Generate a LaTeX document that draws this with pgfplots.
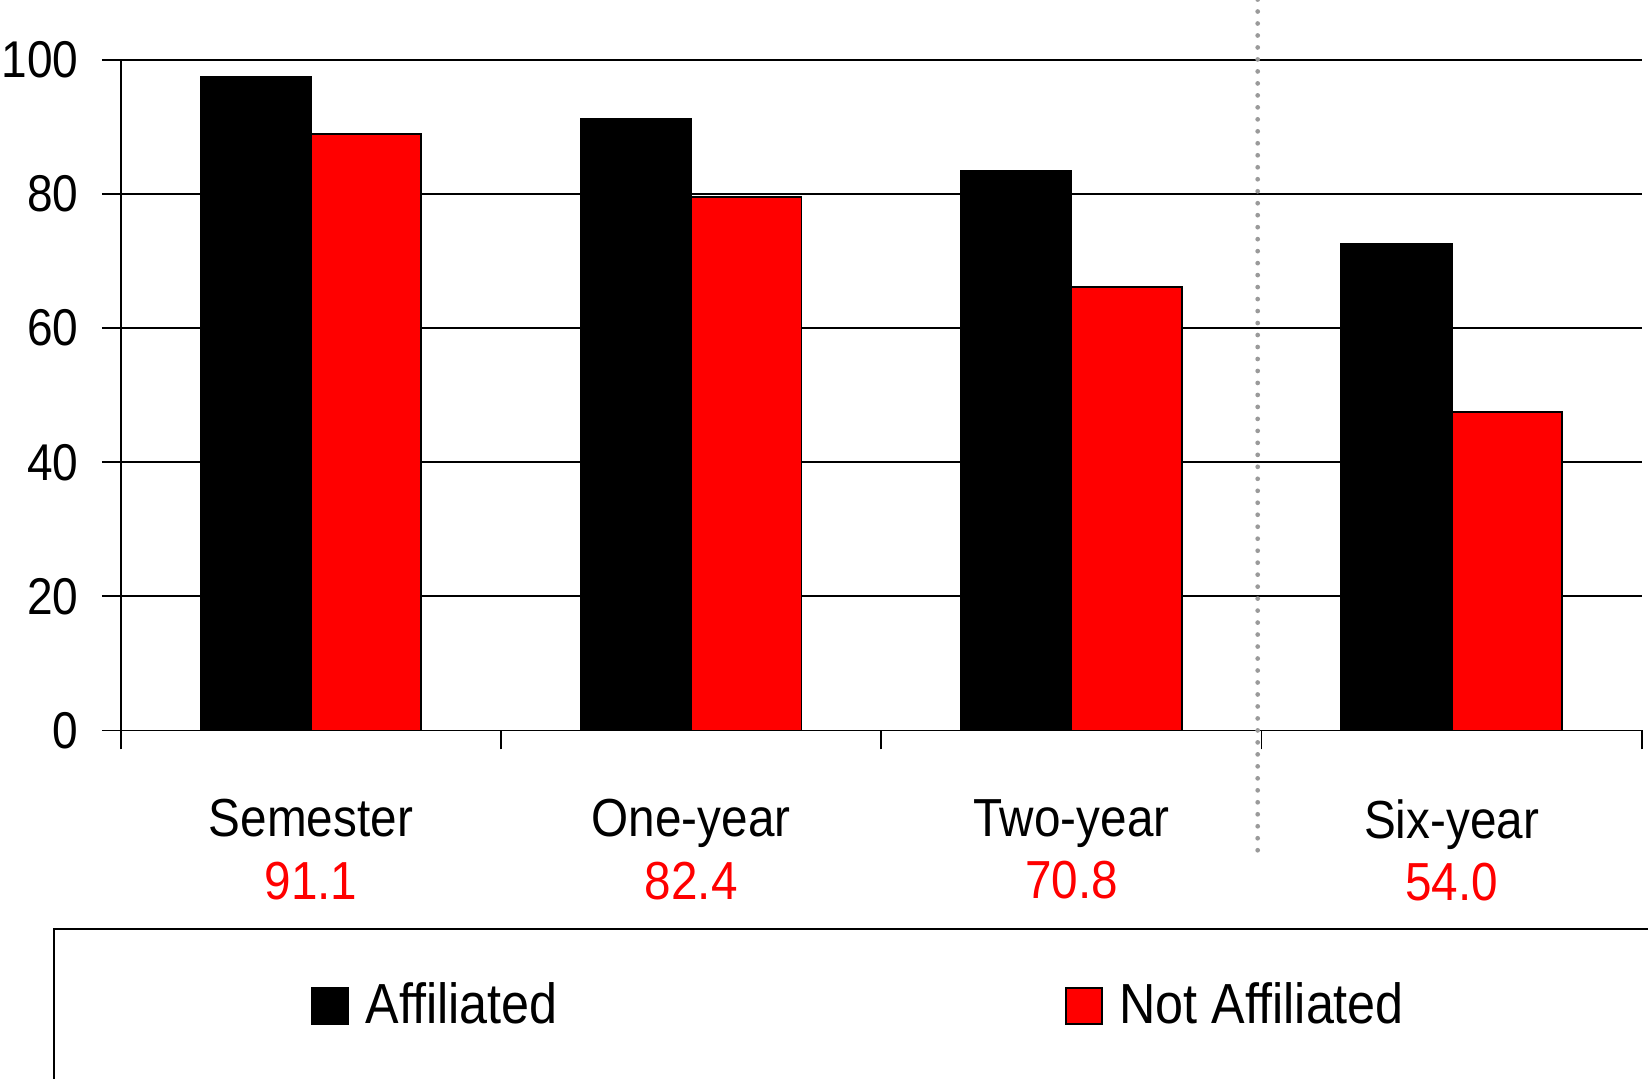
\documentclass[border=0pt]{standalone}
\usepackage{pgfplots}
\pgfplotsset{compat=1.18}
\usepackage{fontspec}
\setmainfont[FakeStretch=0.89]{Liberation Sans}
\definecolor{dotgray}{HTML}{9A9A9A}
\begin{document}
\begin{tikzpicture}
\path[use as bounding box] (0,0) rectangle (15.68,10.26);
\begin{axis}[
  at={(1.15cm,3.31cm)}, anchor=south west,
  scale only axis, width=14.47cm, height=6.38cm,
  xmin=-0.5, xmax=3.5, ymin=0, ymax=100,
  clip=false,
  ybar=0pt, bar width=1.05cm,
  axis x line*=bottom, axis y line*=left,
  axis line style={line width=0.5pt},
  tick align=outside, major tick length=0.18cm,
  tick style={line width=0.5pt, black},
  xtick={-0.5,0.5,1.5,2.5,3.5}, xticklabels={,,,,},
  extra x ticks={0,1,2,3},
  extra x tick labels={Semester\\\textcolor{red}{91.1},One-year\\\textcolor{red}{82.4},Two-year\\\textcolor{red}{70.8},Six-year\\\textcolor{red}{54.0}},
  extra x tick style={major tick length=0pt, xticklabel style={font=\fontsize{14.5}{17}\selectfont, align=center, yshift=-0.53cm}},
  ytick={0,20,40,60,80,100},
  ymajorgrids, grid style={line width=0.5pt, black},
  yticklabel style={font=\fontsize{14}{17}\selectfont, xshift=-0.1cm},
  /pgf/number format/assume math mode=true,
  legend columns=2,
  legend style={at={(-0.0449,-0.2947)}, anchor=north west, draw=black, line width=0.6pt,
    inner xsep=2.45cm, inner ysep=0.45cm,
    nodes={inner sep=0.06cm},
    font=\fontsize{15.3}{19}\selectfont,
    /tikz/every even column/.append style={column sep=4.77cm}},
]
\addplot[fill=black, draw=black, line width=0.5pt,
  legend image code/.code={\draw[fill=black,draw=black,line width=0.5pt] (0cm,-0.175cm) rectangle (0.34cm,0.175cm); \path (0.44cm,0cm);}]
  coordinates {(0,97.4) (1,91.2) (2,83.5) (3,72.6)};
\addlegendentry{Affiliated}
\addplot[fill=red, draw=black, line width=0.5pt,
  legend image code/.code={\draw[fill=red,draw=black,line width=0.5pt] (0cm,-0.175cm) rectangle (0.34cm,0.175cm); \path (0.44cm,0cm);}]
  coordinates {(0,89.0) (1,79.5) (2,66.1) (3,47.5)};
\addlegendentry{\makebox[3.3cm][l]{Not Affiliated}}
\draw[dotgray, line width=0.045cm, line cap=round, dash pattern=on 0pt off 0.114cm] (axis cs:2.49,109) -- (axis cs:2.49,-19);
\end{axis}
\end{tikzpicture}
\end{document}
